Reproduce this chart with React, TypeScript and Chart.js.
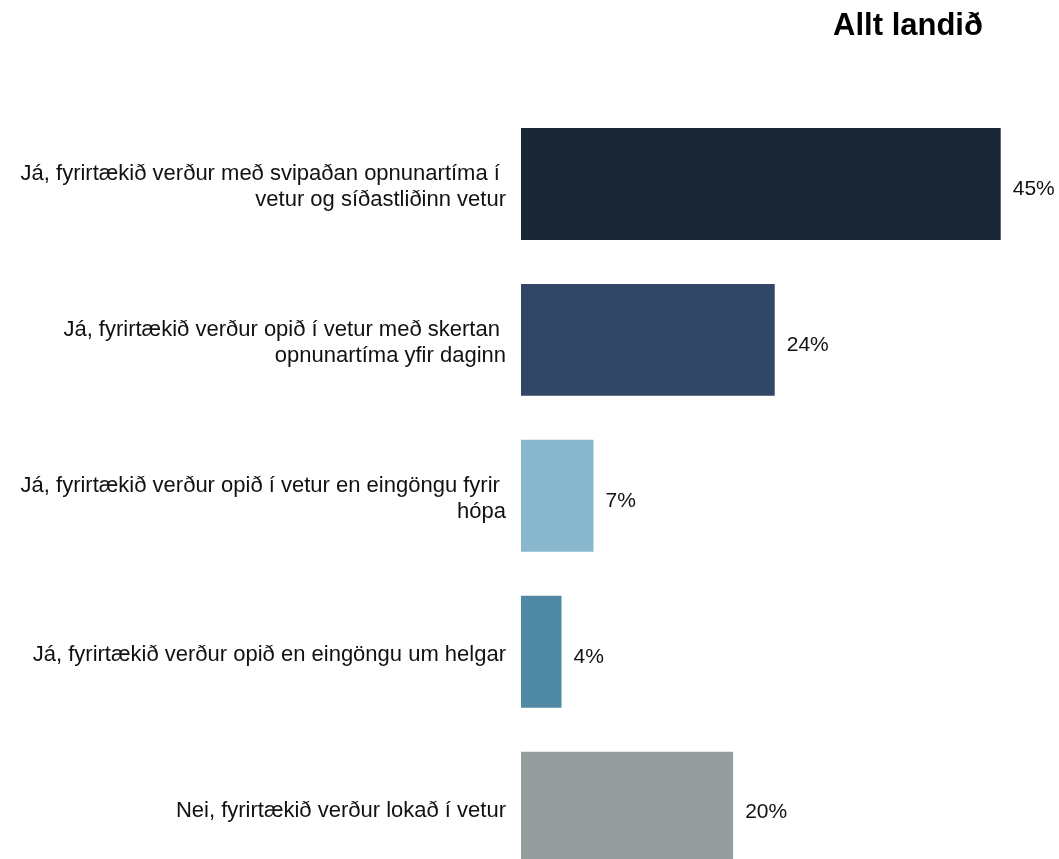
import React, { useEffect, useRef } from "react";
import { Chart, registerables } from "chart.js";

Chart.register(...registerables);

const TITLE = "Allt landið";

const categories: (string | string[])[] = [
  ["Já, fyrirtækið verður með svipaðan opnunartíma í ", "vetur og síðastliðinn vetur"],
  ["Já, fyrirtækið verður opið í vetur með skertan ", "opnunartíma yfir daginn"],
  ["Já, fyrirtækið verður opið í vetur en eingöngu fyrir ", "hópa"],
  "Já, fyrirtækið verður opið en eingöngu um helgar",
  "Nei, fyrirtækið verður lokað í vetur",
];

const values = [45.0, 23.8, 6.8, 3.8, 19.9];

const barColors = ["#182636", "#324665", "#88B7CE", "#4F89A3", "#959D9F"];

const FONT = "'Liberation Sans', Arial, Helvetica, sans-serif";

const valueLabelPlugin = {
  id: "valueLabels",
  afterDatasetsDraw(chart: any) {
    const ctx = chart.ctx;
    const meta = chart.getDatasetMeta(0);
    ctx.save();
    ctx.font = `21px ${FONT}`;
    ctx.fillStyle = "#111";
    ctx.textAlign = "left";
    ctx.textBaseline = "middle";
    meta.data.forEach((bar: any, i: number) => {
      ctx.fillText(`${Math.round(values[i])}%`, bar.x + 12, bar.y + 5);
    });
    ctx.restore();
  },
};

const titlePlugin = {
  id: "cornerTitle",
  afterDraw(chart: any) {
    const ctx = chart.ctx;
    ctx.save();
    ctx.font = `bold 31px ${FONT}`;
    ctx.fillStyle = "#000";
    ctx.textAlign = "center";
    ctx.textBaseline = "middle";
    ctx.fillText(TITLE, 908, 26);
    ctx.restore();
  },
};

export default function App() {
  const ref = useRef<HTMLCanvasElement | null>(null);

  useEffect(() => {
    if (!ref.current) return;
    const chart = new Chart(ref.current, {
      type: "bar",
      data: {
        labels: categories,
        datasets: [
          {
            data: values,
            backgroundColor: barColors,
            borderWidth: 0,
            categoryPercentage: 1,
            barPercentage: 0.718,
          },
        ],
      },
      options: {
        indexAxis: "y",
        animation: false,
        responsive: false,
        layout: { padding: { top: 106, bottom: 14, left: 0, right: 5 } },
        plugins: {
          legend: { display: false },
          tooltip: { enabled: false },
          title: { display: false },
        },
        scales: {
          x: {
            display: false,
            min: 0,
            max: 50,
          },
          y: {
            grid: { display: false, drawTicks: false },
            border: { display: false },
            ticks: {
              autoSkip: false,
              padding: 15,
              labelOffset: 3,
              color: "#111",
              font: { family: FONT, size: 22, lineHeight: 1.2 },
            },
            afterFit(scale: any) {
              scale.width = 521;
            },
          },
        },
      },
      plugins: [valueLabelPlugin, titlePlugin],
    });
    return () => chart.destroy();
  }, []);

  return (
    <div
      style={{
        position: "absolute",
        left: 0,
        top: 0,
        width: 1059,
        height: 859,
        overflow: "hidden",
        background: "#fff",
      }}
    >
      <canvas ref={ref} width={1059} height={927} style={{ display: "block" }} />
    </div>
  );
}
